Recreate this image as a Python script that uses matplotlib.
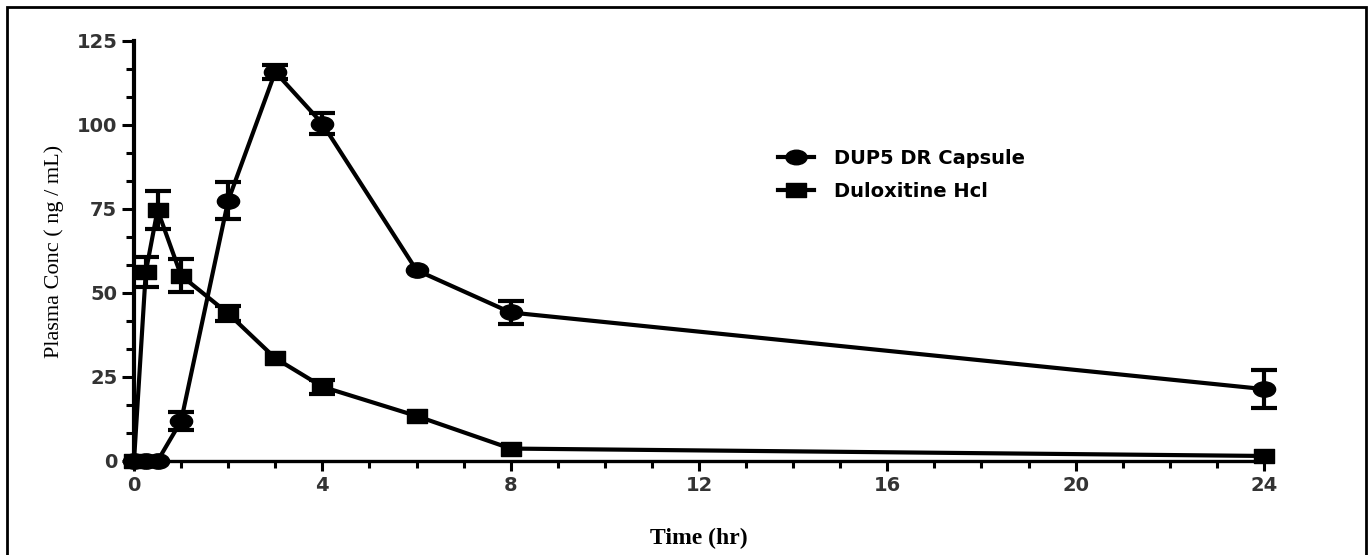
import numpy as np
import matplotlib
matplotlib.use("Agg")
import matplotlib.pyplot as plt
from matplotlib.path import Path
from matplotlib.transforms import Affine2D
from matplotlib.patches import Rectangle
from matplotlib.lines import Line2D
from matplotlib.ticker import MultipleLocator, AutoMinorLocator

# data
time = [0, 0.25, 0.5, 1, 2, 3, 4, 6, 8, 24]
dup5 = [0, 0, 0, 11.9, 77.5, 115.8, 100.4, 56.8, 44.2, 21.4]
dup5_err = [0, 0, 0, 2.6, 5.6, 2.2, 3.2, 0, 3.5, 5.7]
dulox = [0, 56.2, 74.7, 55.2, 43.9, 30.6, 22.1, 13.4, 3.7, 1.5]
dulox_err = [0, 4.5, 5.6, 5.0, 2.2, 0, 2.1, 0, 0, 0]
labels = ["DUP5 DR Capsule", "Duloxitine Hcl"]

# the source picture is stretched sideways, so the markers are too
circ = Path.unit_circle().transformed(Affine2D().scale(1.45, 1.0))
sq = Path([(-1.35, -1), (1.35, -1), (1.35, 1), (-1.35, 1), (-1.35, -1)],
          [Path.MOVETO, Path.LINETO, Path.LINETO, Path.LINETO, Path.CLOSEPOLY])

fig = plt.figure(figsize=(13.68, 5.55), dpi=100)
ax = fig.add_axes([134/1368, 1-461/555, 1130/1368, 420/555])

t = np.array(time)
handles = []
for y, e, mk, ms in [(dup5, dup5_err, circ, 16), (dulox, dulox_err, sq, 14.5)]:
    y = np.array(y)
    e = np.array(e)
    ax.plot(t, y, color="black", lw=3, marker=mk, ms=ms, clip_on=False, zorder=3)
    m = e > 0
    cont = ax.errorbar(t[m], y[m], yerr=e[m], fmt="none", ecolor="black",
                       capsize=9.5, capthick=3, elinewidth=3, zorder=2)
    for art in cont.get_children():
        art.set_clip_on(False)
    handles.append(Line2D([], [], color="black", lw=3, marker=mk, ms=ms*0.95))

ax.set_xlim(0, 24)
ax.set_ylim(0, 125)
ax.xaxis.set_major_locator(MultipleLocator(4))
ax.xaxis.set_minor_locator(MultipleLocator(1))
ax.yaxis.set_major_locator(MultipleLocator(25))
ax.yaxis.set_minor_locator(AutoMinorLocator(3))

for s in ["top", "right"]:
    ax.spines[s].set_visible(False)
ax.spines["left"].set_linewidth(3)
ax.spines["bottom"].set_linewidth(2.4)

ax.tick_params(axis="y", which="major", length=9, width=2.2, pad=3)
ax.tick_params(axis="y", which="minor", length=6, width=2.2)
ax.tick_params(axis="x", which="major", length=7, width=2.2, pad=4)
ax.tick_params(axis="x", which="minor", length=5, width=2.2)
for lb in ax.get_xticklabels() + ax.get_yticklabels():
    lb.set_fontsize(14)
    lb.set_fontweight("bold")
    lb.set_color("#333333")

ax.set_ylabel("Plasma Conc ( ng / mL)", family="Liberation Serif", fontsize=16)
ax.yaxis.set_label_coords(-0.062, 0.5)
ax.set_xlabel("Time (hr)", family="Liberation Serif", fontsize=17, fontweight="bold")
ax.xaxis.set_label_coords(0.5, -0.16)

ax.legend(handles, labels, loc="upper left", bbox_to_anchor=(760/1368, 1-131/555),
          bbox_transform=fig.transFigure, frameon=False, handlelength=1.9,
          handletextpad=1.0, labelspacing=0.75,
          prop={"weight": "bold", "size": 14})

fig.patches.append(Rectangle((7/1368, -0.02), 1359/1368, 1-7/555+0.02,
                             transform=fig.transFigure, fill=False,
                             lw=2, edgecolor="black"))

fig.savefig("out.png", dpi=100)
